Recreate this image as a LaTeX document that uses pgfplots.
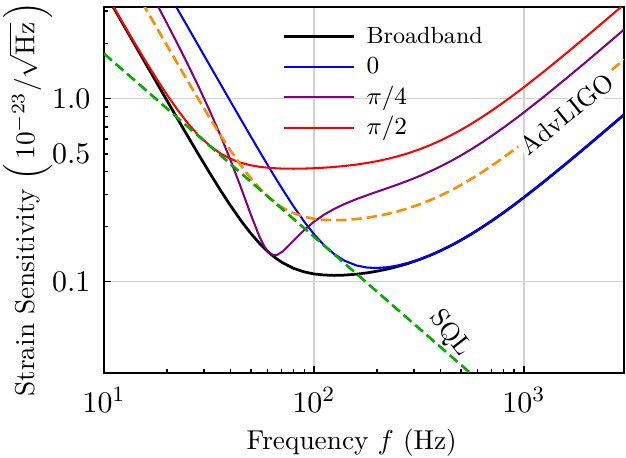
\documentclass[border=0pt]{standalone}
\usepackage{pgfplots}
\pgfplotsset{compat=1.18}

\definecolor{cblue}{RGB}{0,0,255}
\definecolor{cpurple}{RGB}{128,0,128}
\definecolor{cred}{RGB}{255,0,0}
\definecolor{corange}{RGB}{255,140,0}
\definecolor{cgreen}{RGB}{0,170,0}

\begin{document}
\begin{tikzpicture}
\begin{axis}[
  xmode=log, ymode=log,
  scale only axis,
  width=190.5pt, height=134.1pt,
  xmin=10, xmax=3000,
  ymin=0.03162, ymax=3.162,
  ytick={0.1,1},
  yticklabels={$0.1$,$1.0$},
  minor ytick={0.2,0.3,0.4,0.5,0.6,0.7,0.8,0.9,2,3},
  extra y ticks={0.5},
  extra y tick labels={$0.5$},
  extra y tick style={grid=none, major tick length=1.5pt},
  tick pos=left,
  tick align=inside,
  major tick length=2.5pt,
  minor tick length=1.5pt,
  tick style={black, line width=0.6pt},
  axis line style={line width=0.8pt},
  grid=major,
  major grid style={gray!35, line width=0.5pt},
  ticklabel style={font=\fontsize{11}{13}\selectfont},
  yticklabel style={xshift=-1.5pt},
  xticklabel style={yshift=-1.8pt},
  xlabel={Frequency $f$ (Hz)},
  xlabel style={at={(axis description cs:0.5,0)}, anchor=base, yshift=-27.8pt, xshift=-4.5pt},
  ylabel={Strain Sensitivity~$\left(\,10^{-23}/\sqrt{\mathrm{Hz}}\,\right)$},
  ylabel style={at={(axis description cs:-0.134,0.475)}, anchor=base},
  legend style={draw=none, fill=none, at={(rel axis cs:0.342,0.962)}, anchor=north west,
    font=\fontsize{8.6}{10.5}\selectfont, inner sep=0pt, row sep=0pt,
    nodes={inner sep=0.7pt, text height=7.4pt, text depth=2.3pt}},
  legend cell align=left,
  legend image code/.code={\draw[#1] (0pt,0pt) -- (25.6pt,0pt);},
  /tikz/every odd column/.append style={column sep=3.5pt},
]
\coordinate (sw) at (rel axis cs:0,0);

% Broadband
\addplot[black, line width=1pt] coordinates {
(10,3.868) (11,3.197) (12.5,2.476) (14,1.975) (16,1.513) (18,1.197) (20,0.9708)
(22.5,0.7692) (25,0.6256) (28,0.5021) (32,0.3895) (36,0.3136) (40,0.2606)
(45,0.2148) (50,0.1836) (55,0.1620) (58,0.1522) (61,0.1443) (64,0.1378)
(67,0.1324) (71,0.1268) (80,0.1182) (90,0.1130) (100,0.1102) (112,0.1087)
(125,0.1082) (140,0.1086) (160,0.1099) (180,0.1118) (200,0.1141) (225,0.1173)
(250,0.1209) (280,0.1256) (320,0.1324) (360,0.1397) (400,0.1474) (450,0.1576)
(500,0.1683) (560,0.1816) (630,0.1977) (710,0.2166) (800,0.2385) (900,0.2633)
(1000,0.2885) (1250,0.3527) (1600,0.4443) (2000,0.5503) (2500,0.6837) (3000,0.8178)
};
\addlegendentry{Broadband}

% 0
\addplot[cblue, line width=0.75pt] coordinates {
(20,3.864) (22.5,3.052) (25,2.472) (28,1.9705) (32,1.5087) (36,1.1925) (40,0.9667)
(45,0.7652) (50,0.6216) (55,0.5159) (58,0.4655) (61,0.4226) (64,0.3858)
(67,0.3541) (71,0.3182) (80,0.2575) (90,0.2123) (100,0.1818) (112,0.1577)
(125,0.1413) (140,0.1300) (160,0.1224) (180,0.1193) (200,0.1188) (225,0.1200)
(250,0.1225) (280,0.1265) (320,0.1328) (360,0.1399) (400,0.1476) (450,0.1577)
(500,0.1683) (560,0.1816) (630,0.1977) (710,0.2166) (800,0.2385) (900,0.2633)
(1000,0.2885) (1250,0.3527) (1600,0.4443) (2000,0.5503) (2500,0.6837) (3000,0.8178)
};
\addlegendentry{$0$}

% pi/4
\addplot[cpurple, line width=0.75pt] coordinates {
(16,4.146) (18,3.222) (20,2.561) (22.5,1.970) (25,1.548) (28,1.184) (32,0.850)
(36,0.6228) (40,0.4629) (45,0.3244) (50,0.2329) (55,0.1762) (58,0.1559)
(60,0.1473) (61,0.1443) (62,0.1421) (63,0.1406) (64,0.1397) (65,0.1395)
(66,0.1397) (67,0.1403) (71,0.1462) (80,0.1675) (90,0.1919) (100,0.2125)
(112,0.2326) (125,0.2498) (140,0.2658) (160,0.2829) (180,0.2973) (200,0.3101)
(225,0.3249) (250,0.3391) (280,0.3559) (320,0.3785) (360,0.4017) (400,0.4256)
(450,0.4564) (500,0.4883) (560,0.5277) (630,0.5750) (710,0.6306) (800,0.6946)
(900,0.7671) (1000,0.8407) (1250,1.0281) (1600,1.2952) (2000,1.6043)
(2500,1.9934) (3000,2.3842)
};
\addlegendentry{$\pi/4$}

% pi/2
\addplot[cred, line width=0.75pt] coordinates {
(10,3.887) (11,3.220) (12.5,2.506) (14,2.012) (16,1.562) (18,1.258) (20,1.0455)
(22.5,0.8617) (25,0.7365) (28,0.6350) (32,0.5506) (36,0.5001) (40,0.4690)
(45,0.4457) (50,0.4322) (55,0.4241) (61,0.4186) (67,0.4157) (71,0.4146)
(80,0.4139) (90,0.4147) (100,0.4165) (112,0.4194) (125,0.4233) (140,0.4285)
(160,0.4365) (180,0.4454) (200,0.4552) (225,0.4687) (250,0.4833) (280,0.5022)
(320,0.5294) (360,0.5587) (400,0.5897) (450,0.6305) (500,0.6731) (560,0.7264)
(630,0.7907) (710,0.8664) (800,0.9539) (900,1.0531) (1000,1.1539) (1250,1.4107)
(1600,1.7772) (2000,2.2011) (2500,2.7349) (3000,3.2711)
};
\addlegendentry{$\pi/2$}

% AdvLIGO
\addplot[corange, line width=0.95pt, dash pattern=on 3.8pt off 1.8pt, forget plot] coordinates {
(14,3.949) (16,3.026) (18,2.393) (20,1.942) (22.5,1.5385) (25,1.2512) (28,1.0043)
(32,0.7790) (36,0.6272) (40,0.5212) (45,0.4295) (50,0.3672) (55,0.3240)
(61,0.2885) (67,0.2649) (71,0.2535) (80,0.2365) (90,0.2260) (100,0.2204)
(112,0.2173) (125,0.2165) (140,0.2172) (160,0.2199) (180,0.2237) (200,0.2282)
(225,0.2347) (250,0.2418) (280,0.2512) (320,0.2648) (360,0.2794) (400,0.2949)
(450,0.3152) (500,0.3366) (560,0.3632) (630,0.3953) (710,0.4332) (800,0.4769)
(900,0.5265) (1000,0.5769) (1250,0.7054) (1600,0.8886) (2000,1.1006)
(2500,1.3675) (3000,1.6356)
};
\node[rotate=39, fill=white, inner sep=0.6pt, font=\fontsize{9.5}{11}\selectfont]
  at (axis cs:1600,0.825) {AdvLIGO};

% SQL
\addplot[cgreen, line width=0.95pt, dash pattern=on 3.8pt off 1.8pt, forget plot] coordinates {
(10,1.76) (100,0.176) (1000,0.0176)
};
\node[rotate=-52, font=\fontsize{9.5}{11}\selectfont] at (axis cs:444,0.052) {SQL};

\end{axis}
\pgfresetboundingbox
\path[use as bounding box] (sw) ++(-38.1pt,-30.8pt) rectangle ++(229.3pt,167.5pt);
\end{tikzpicture}
\end{document}
